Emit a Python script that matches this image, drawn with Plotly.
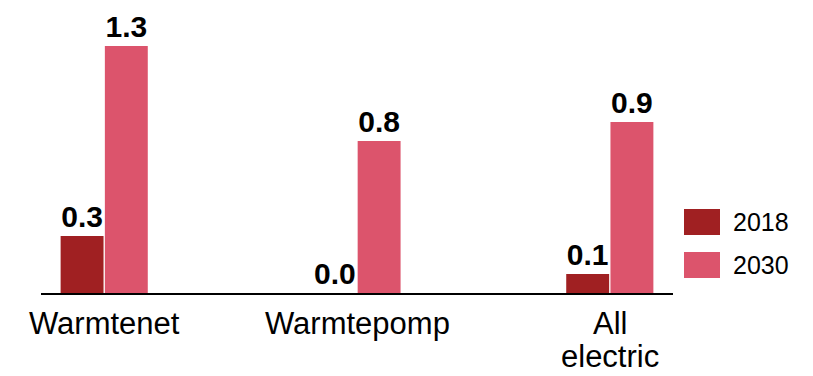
import plotly.graph_objects as go

categories = ["Warmtenet", "Warmtepomp", "All electric"]
tick_labels = [["Warmtenet"], ["Warmtepomp"], ["All", "electric"]]
series_names = ["2018", "2030"]
values_2018 = [0.3, 0.0, 0.1]
values_2030 = [1.3, 0.8, 0.9]
colors = ["#A02022", "#DC546C"]

W, H = 813, 376
ML, MR, MT, MB = 41, 140, 10, 83
plot_h = H - MT - MB
plot_w = W - ML - MR

font_family = "Liberation Sans, Arial, sans-serif"

fig = go.Figure()
for name, vals, col in zip(series_names, [values_2018, values_2030], colors):
    fig.add_trace(go.Bar(
        x=categories, y=vals, name=name,
        marker=dict(color=col, line=dict(width=0)),
        texttemplate="%{y:.1f}", textposition="outside",
        textfont=dict(family=font_family, size=30, color="black", weight="bold"),
        constraintext="none", cliponaxis=False,
        showlegend=False,
    ))


def px_x(x):
    return (x - ML) / plot_w


def px_y(y):
    return (MT + plot_h - y) / plot_h


shapes, annotations = [], []

# category labels under the axis, one annotation per line for tight line spacing
for cat, lines in zip(categories, tick_labels):
    for j, line in enumerate(lines):
        annotations.append(dict(xref="x", yref="paper", x=cat, y=px_y(323 + j * 33.5),
                                text=line, showarrow=False, xanchor="center", yanchor="middle",
                                borderpad=0,
                                font=dict(family=font_family, size=31, color="black")))

# hand-drawn legend to the right of the plot area
for i, (name, col) in enumerate(zip(series_names, colors)):
    top = 209 + i * 43
    shapes.append(dict(type="rect", xref="paper", yref="paper",
                       x0=px_x(684), x1=px_x(720), y0=px_y(top + 26), y1=px_y(top),
                       fillcolor=col, line=dict(width=0)))
    annotations.append(dict(xref="paper", yref="paper", x=px_x(731), y=px_y(top + 13),
                            text=name, showarrow=False, xanchor="left", yanchor="middle",
                            font=dict(family=font_family, size=25, color="black")))

fig.update_layout(
    width=W, height=H,
    margin=dict(l=ML, r=MR, t=MT, b=MB, autoexpand=False),
    paper_bgcolor="white", plot_bgcolor="white",
    barmode="group", bargap=0.65, bargroupgap=0.03,
    shapes=shapes, annotations=annotations,
    xaxis=dict(range=[-0.25, 2.25], showline=True, linecolor="black", linewidth=1.5,
               showticklabels=False, ticks="",
               showgrid=False, zeroline=False, automargin=False),
    yaxis=dict(range=[0, plot_h / 190], visible=False, showgrid=False, zeroline=False,
               automargin=False),
)

fig.write_html("out.html")
